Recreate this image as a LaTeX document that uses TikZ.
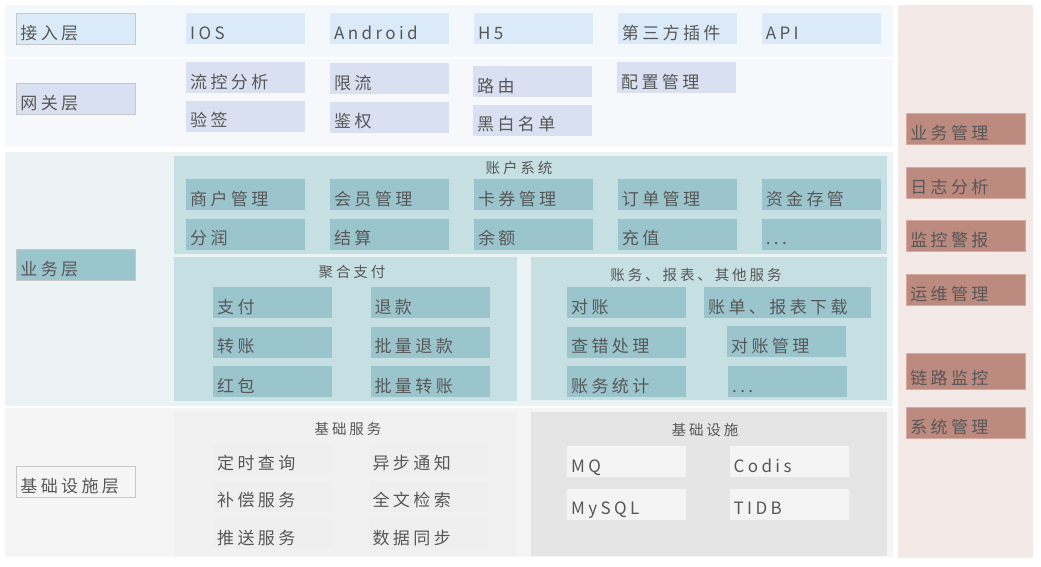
\documentclass[tikz,border=0pt]{standalone}
\usepackage{fontspec}
\setmainfont{Noto Sans CJK SC}[LetterSpace=20]
\usetikzlibrary{positioning}

\definecolor{txtgray}{HTML}{575757}
\definecolor{accband}{HTML}{F3F8FC}
\definecolor{gwband}{HTML}{F6F8FC}
\definecolor{bizband}{HTML}{EBF3F5}
\definecolor{baseband}{HTML}{F5F5F5}
\definecolor{opsband}{HTML}{F3E9E6}
\definecolor{accfill}{HTML}{DAEAF8}
\definecolor{gwfill}{HTML}{D9E0F1}
\definecolor{bizbox}{HTML}{C5DFE3}
\definecolor{bizfill}{HTML}{9BC5CD}
\definecolor{svcbox}{HTML}{F1F1F1}
\definecolor{svcfill}{HTML}{EFEFEF}
\definecolor{infbox}{HTML}{E5E5E5}
\definecolor{inffill}{HTML}{F4F4F4}
\definecolor{opsfill}{HTML}{BC8A7E}
\definecolor{opsline}{HTML}{D6A89E}
\definecolor{layerline}{HTML}{C8C8C8}

\begin{document}
\begin{tikzpicture}[x=1pt, y=-1pt,
    every node/.style={text=txtgray, font=\fontsize{17}{19}\selectfont},
    cell/.style={rectangle, anchor=north west, inner xsep=4pt, inner ysep=0pt,
      text width=111pt, text height=26pt, text depth=5pt, align=left},
    layer/.style={cell, draw=layerline, line width=0.8pt},
    acccell/.style={cell, fill=accfill},
    gwcell/.style={cell, fill=gwfill},
    bizcell/.style={cell, fill=bizfill},
    svccell/.style={cell, fill=svcfill},
    infcell/.style={cell, fill=inffill},
    opscell/.style={cell, fill=opsfill, draw=opsline, line width=0.6pt},
    title/.style={inner sep=0pt, font=\fontsize{14.5}{16}\selectfont}
]
\useasboundingbox (0,0) rectangle (1041,567);
\fill[white] (0,0) rectangle (1041,567);

% bands
\fill[accband] (5,5) rectangle (893,57);
\fill[gwband] (5,59) rectangle (893,147);
\fill[bizband] (5,152) rectangle (893,406);
\fill[baseband] (5,408) rectangle (893,557);
\fill[opsband] (898,5) rectangle (1033,558);

% groups
\fill[bizbox] (174,156) rectangle (887,254);
\fill[bizbox] (174,257) rectangle (517,401);
\fill[bizbox] (531,257) rectangle (887,400);
\fill[svcbox] (174,412) rectangle (517,556);
\fill[infbox] (531,412) rectangle (887,556);

% layer labels
\node[layer, fill=accfill] (acc) at (16,13) {接入层};
\node[layer, fill=gwfill] (gw) at (16,83) {网关层};
\node[layer, fill=bizfill] (biz) at (16,249) {业务层};
\node[layer, fill=baseband] (base) at (16,466) {基础设施层};

% access layer
\node[acccell] (ios) at (186,13) {IOS};
\node[acccell, right=24.5pt of ios] (android) {Android};
\node[acccell, right=24.5pt of android] (hfive) {H5};
\node[acccell, right=24.5pt of hfive] (plugin) {第三方插件};
\node[acccell, right=24.5pt of plugin] (api) {API};

% gateway layer
\node[gwcell] (flow) at (186,62) {流控分析};
\node[gwcell, below=7pt of flow] (sign) {验签};
\node[gwcell] (limit) at (330,63) {限流};
\node[gwcell, below=7pt of limit] (auth) {鉴权};
\node[gwcell] (route) at (473,66) {路由};
\node[gwcell, below=7pt of route] (blacklist) {黑白名单};
\node[gwcell] (config) at (617,62) {配置管理};

% account system
\node[title] (acctitle) at (519,168) {账户系统};
\node[bizcell] (merchant) at (186,179) {商户管理};
\node[bizcell, right=24.5pt of merchant] (member) {会员管理};
\node[bizcell, right=24.5pt of member] (coupon) {卡券管理};
\node[bizcell, right=24.5pt of coupon] (order) {订单管理};
\node[bizcell, right=24.5pt of order] (custody) {资金存管};
\node[bizcell, below=8pt of merchant] (share) {分润};
\node[bizcell, right=24.5pt of share] (settle) {结算};
\node[bizcell, right=24.5pt of settle] (balance) {余额};
\node[bizcell, right=24.5pt of balance] (recharge) {充值};
\node[bizcell, right=24.5pt of recharge] (accmore) {...};

% aggregated payment
\node[title] (paytitle) at (352,272) {聚合支付};
\node[bizcell] (pay) at (213,287) {支付};
\node[bizcell, right=38pt of pay] (refund) {退款};
\node[bizcell, below=8pt of pay] (transfer) {转账};
\node[bizcell, right=38pt of transfer] (batchrefund) {批量退款};
\node[bizcell, below=8pt of transfer] (redpacket) {红包};
\node[bizcell, right=38pt of redpacket] (batchtransfer) {批量转账};

% accounting, reports, other services
\node[title] (accttitle) at (696,275) {账务、报表、其他服务};
\node[bizcell] (recon) at (567,287) {对账};
\node[bizcell, text width=159pt] (billdl) at (704,287) {账单、报表下载};
\node[bizcell, below=8pt of recon] (errfix) {查错处理};
\node[bizcell] (reconmgmt) at (727,326) {对账管理};
\node[bizcell, below=8pt of errfix] (stats) {账务统计};
\node[bizcell] (acctmore) at (728,366) {...};

% basic services
\node[title] (svctitle) at (348,429) {基础服务};
\node[svccell] (timer) at (213,443) {定时查询};
\node[svccell, right=36pt of timer] (notify) {异步通知};
\node[svccell, below=6pt of timer] (compensate) {补偿服务};
\node[svccell, right=36pt of compensate] (search) {全文检索};
\node[svccell, below=6pt of compensate] (push) {推送服务};
\node[svccell, right=36pt of push] (sync) {数据同步};

% infrastructure
\node[title] (inftitle) at (705,430) {基础设施};
\node[infcell] (mq) at (567,446) {MQ};
\node[infcell, right=43pt of mq] (codis) {Codis};
\node[infcell, below=11pt of mq] (mysql) {MySQL};
\node[infcell, right=43pt of mysql] (tidb) {TIDB};

% operations column
\node[opscell] (bizmgmt) at (906,113) {业务管理};
\node[opscell] (logs) at (906,167) {日志分析};
\node[opscell] (alarm) at (906,220) {监控警报};
\node[opscell] (ops) at (906,274) {运维管理};
\node[opscell, text height=31pt] (trace) at (906,353) {链路监控};
\node[opscell] (sysmgmt) at (906,407) {系统管理};

\end{tikzpicture}
\end{document}
